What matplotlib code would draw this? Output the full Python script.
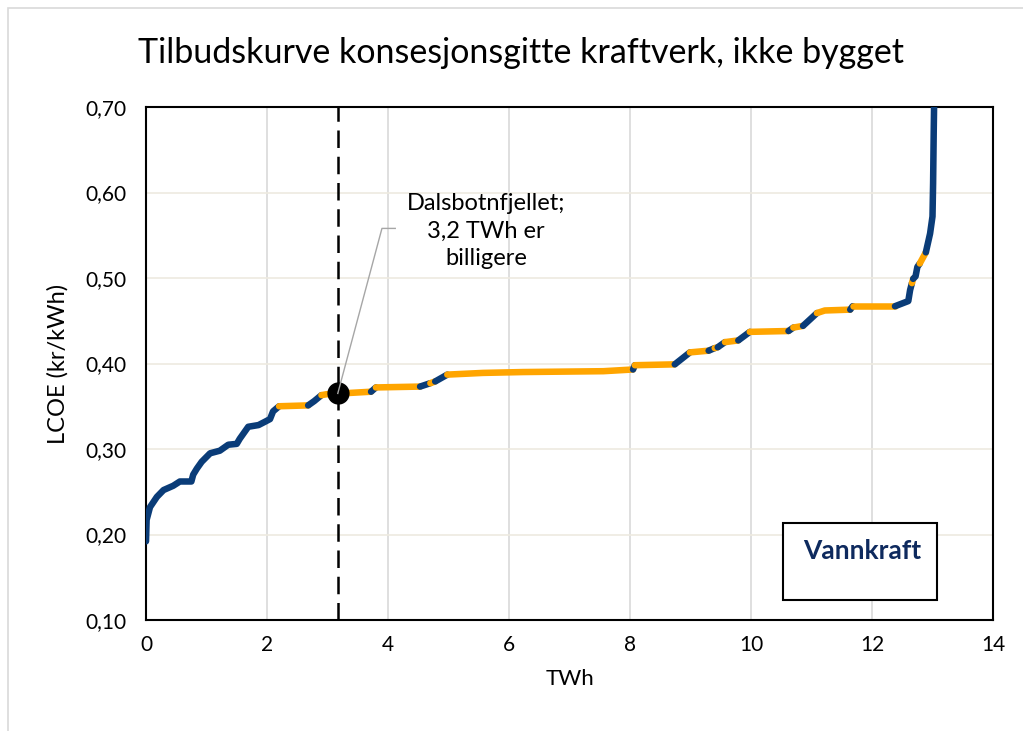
import matplotlib.pyplot as plt
from matplotlib.patches import Rectangle
from matplotlib.ticker import FuncFormatter

plt.rcParams['font.family'] = ['Lato', 'DejaVu Sans']

# tilbudskurve: knekkpunkter (TWh, kr/kWh)
twh = [0.00, 0.01, 0.066, 0.18, 0.29, 0.45, 0.56, 0.75, 0.78, 0.84, 0.92, 1.06, 1.22, 1.36,
       1.50, 1.55, 1.69, 1.86, 1.97, 2.05, 2.10, 2.20, 2.68, 2.78, 2.90, 2.98, 3.72, 3.80,
       4.53, 4.70, 4.78, 4.98, 5.57, 6.23, 7.56, 8.05, 8.08, 8.74, 8.99, 9.30, 9.40, 9.45,
       9.57, 9.79, 9.98, 10.62, 10.70, 10.86, 11.09, 11.22, 11.64, 11.68, 12.38, 12.60,
       12.63, 12.66, 12.68, 12.72, 12.75, 12.79, 12.89, 12.96, 13.00, 13.01, 13.02, 13.03]
lcoe = [0.192, 0.217, 0.232, 0.244, 0.252, 0.257, 0.262, 0.262, 0.270, 0.277, 0.285, 0.295,
        0.298, 0.305, 0.306, 0.312, 0.326, 0.328, 0.332, 0.335, 0.344, 0.350, 0.351, 0.356,
        0.363, 0.364, 0.367, 0.372, 0.373, 0.377, 0.379, 0.387, 0.389, 0.390, 0.391, 0.393,
        0.398, 0.399, 0.413, 0.415, 0.418, 0.419, 0.425, 0.427, 0.437, 0.438, 0.442, 0.444,
        0.459, 0.462, 0.463, 0.467, 0.467, 0.473, 0.486, 0.494, 0.499, 0.502, 0.513, 0.517,
        0.530, 0.552, 0.572, 0.611, 0.670, 0.720]
# type for hvert segment mellom punkt i og i+1 (B = blå, O = oransje)
seg_type = list('B' * 21 + 'OBBOOBOBOBOOOOBOBOBOBOBOBOBOOBOBBBOBBBOBBBBB')

dals_x = 3.17
dals_y = 0.365
note = 'Dalsbotnfjellet;\n3,2 TWh er\nbilligere'

colors = {'B': '#0A3C78', 'O': '#FFA500'}

fig = plt.figure(figsize=(10.23, 7.31), dpi=100)
fig.patches.append(Rectangle((8 / 1023, -0.1), 1.2, 1 - 8 / 731 + 0.1, transform=fig.transFigure,
                             fill=False, edgecolor='#D9D9D9', linewidth=1.2))
ax = fig.add_axes([146 / 1023, 1 - 620 / 731, (993 - 146) / 1023, (620 - 107) / 731])

# grupper sammenhengende segmenter med samme farge
start = 0
for i in range(1, len(seg_type) + 1):
    if i == len(seg_type) or seg_type[i] != seg_type[start]:
        ax.plot(twh[start:i + 1], lcoe[start:i + 1], color=colors[seg_type[start]], lw=4.7,
                solid_capstyle='round', solid_joinstyle='round', zorder=3)
        start = i

ax.axvline(dals_x, color='black', lw=1.8, ls=(0, (7, 3.5)), zorder=4)
ax.plot(dals_x, dals_y, 'o', color='black', ms=15, zorder=5)
ax.plot([dals_x, 3.90, 4.12], [dals_y, 0.558, 0.558], color='#A6A6A6', lw=1, zorder=6)
ax.text(5.62, 0.555, note, ha='center', va='center', fontsize=17, linespacing=1.4)

ax.add_patch(Rectangle((0.752, 0.039), 0.182, 0.150, transform=ax.transAxes, facecolor='white',
                       edgecolor='black', lw=1.5, zorder=6))
ax.text(0.845, 0.134, 'Vannkraft', transform=ax.transAxes, ha='center', va='center',
        fontsize=19, fontweight='bold', color='#0E2A5E', zorder=7)

ax.set_xlim(0, 14)
ax.set_ylim(0.10, 0.70)
ax.set_xticks(range(0, 15, 2))
ax.set_yticks([0.1, 0.2, 0.3, 0.4, 0.5, 0.6, 0.7])
ax.yaxis.set_major_formatter(FuncFormatter(lambda v, p: f'{v:.2f}'.replace('.', ',')))
ax.tick_params(length=0, labelsize=15)
ax.tick_params(axis='y', pad=14)
ax.tick_params(axis='x', pad=11)
for x in range(2, 14, 2):
    ax.axvline(x, color='#D9D9D9', lw=1.2, zorder=1)
for y in [0.2, 0.3, 0.4, 0.5, 0.6]:
    ax.axhline(y, color='#EEEAE0', lw=1.2, zorder=1)
for s in ax.spines.values():
    s.set_color('black')
    s.set_linewidth(1.5)

ax.set_xlabel('TWh', fontsize=16, labelpad=10)
ax.set_ylabel('LCOE (kr/kWh)', fontsize=17, labelpad=12)
fig.text(0.509, 0.928, 'Tilbudskurve konsesjonsgitte kraftverk, ikke bygget', ha='center',
         va='center', fontsize=24.5)

fig.savefig('out.png', dpi=100)
